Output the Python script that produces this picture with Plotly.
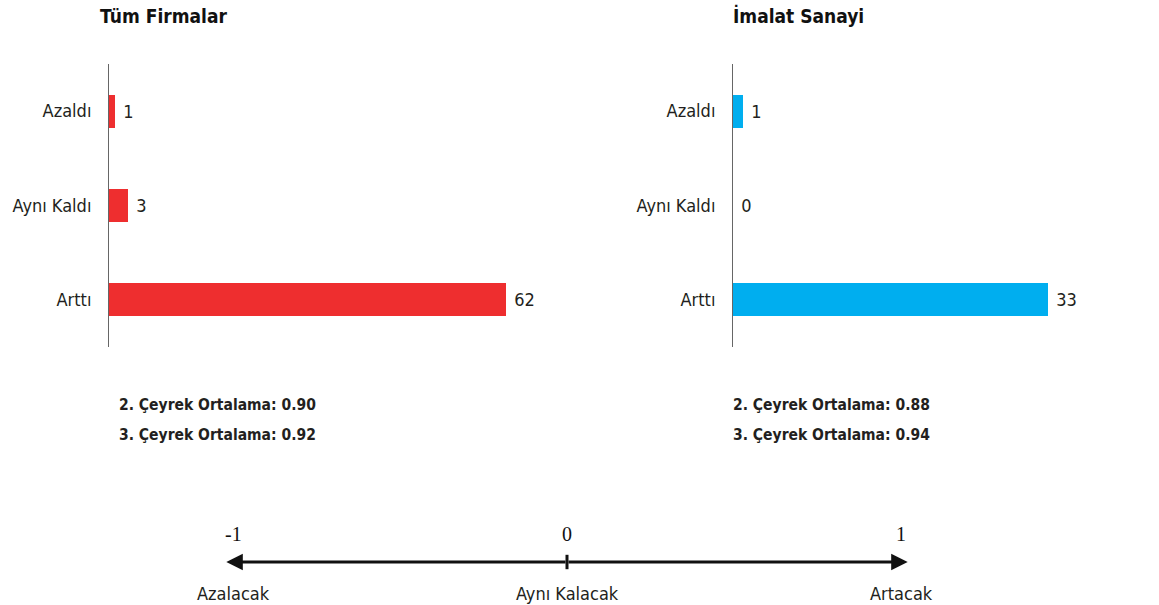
import plotly.graph_objects as go

W, H = 1159, 605

# veriler
categories = ['Azaldı', 'Aynı Kaldı', 'Arttı']
tum_firmalar = [1, 3, 62]
imalat_sanayi = [1, 0, 33]

panel_titles = ['Tüm Firmalar', 'İmalat Sanayi']
ortalama_tum = ['2. Çeyrek Ortalama: 0.90', '3. Çeyrek Ortalama: 0.92']
ortalama_imalat = ['2. Çeyrek Ortalama: 0.88', '3. Çeyrek Ortalama: 0.94']

scale_values = [-1, 0, 1]
scale_labels = ['Azalacak', 'Aynı Kalacak', 'Artacak']

RED = '#EE2E2F'
BLUE = '#00AEEF'
TXT = '#231F20'
FONT = 'DejaVu Sans Condensed, Roboto, sans-serif'


def px_x(p):
    return p / W


def px_y(p):
    return 1 - p / H


fig = go.Figure()

fig.add_trace(go.Bar(
    y=categories, x=tum_firmalar, orientation='h',
    marker=dict(color=RED, line=dict(width=0)), width=0.35,
    texttemplate='\u00a0%{x}', textposition='outside', cliponaxis=False,
    textfont=dict(family=FONT, size=18, color=TXT),
    xaxis='x', yaxis='y', hoverinfo='skip'))

fig.add_trace(go.Bar(
    y=categories, x=imalat_sanayi, orientation='h',
    marker=dict(color=BLUE, line=dict(width=0)), width=0.35,
    texttemplate='\u00a0%{x}', textposition='outside', cliponaxis=False,
    textfont=dict(family=FONT, size=18, color=TXT),
    xaxis='x2', yaxis='y2', hoverinfo='skip'))

y_dom = [px_y(347), px_y(64)]
common_y = dict(type='category', categoryorder='array', categoryarray=categories[::-1],
                range=[-0.5, 2.5], showline=True, linecolor='#666', linewidth=1,
                ticks='', ticklabelstandoff=13, showgrid=False, zeroline=False,
                tickfont=dict(family=FONT, size=18, color=TXT))
common_x = dict(showline=False, showgrid=False, zeroline=False, showticklabels=False, ticks='')

fig.update_layout(
    width=W, height=H,
    margin=dict(l=0, r=0, t=0, b=0),
    paper_bgcolor='white', plot_bgcolor='rgba(0,0,0,0)',
    showlegend=False, bargap=0,
    xaxis=dict(common_x, domain=[px_x(109), px_x(506)], range=[0, 62], anchor='y'),
    yaxis=dict(common_y, domain=y_dom, anchor='x'),
    xaxis2=dict(common_x, domain=[px_x(733), px_x(1048)], range=[0, 33], anchor='y2'),
    yaxis2=dict(common_y, domain=y_dom, anchor='x2'),
    xaxis3=dict(common_x, domain=[px_x(233), px_x(901)], range=[-1, 1], anchor='y3'),
    yaxis3=dict(common_x, domain=[px_y(602), px_y(522)], range=[-1, 1], anchor='x3'),
)

annotations = []
# panel basliklari
for x0, t in zip([98, 731], panel_titles):
    annotations.append(dict(x=px_x(x0), y=px_y(16), xref='paper', yref='paper',
                            text=f'<b>{t}</b>', showarrow=False, xanchor='left', yanchor='middle',
                            font=dict(family=FONT, size=19, color='#111')))

# ortalamalar
for x0, lines in zip([117, 731], [ortalama_tum, ortalama_imalat]):
    for yy, t in zip([405, 435], lines):
        annotations.append(dict(x=px_x(x0), y=px_y(yy), xref='paper', yref='paper',
                                text=f'<b>{t}</b>', showarrow=False, xanchor='left', yanchor='middle',
                                font=dict(family=FONT, size=15.5, color=TXT)))

# sayi dogrusu
for sign in [-1, 1]:
    annotations.append(dict(x=sign * 1.02, y=0, xref='x3', yref='y3',
                            ax=0, ay=0, axref='x3', ayref='y3', text='',
                            showarrow=True, arrowhead=2, arrowsize=1.1, arrowwidth=3,
                            arrowcolor='#111'))
for v, lab in zip(scale_values, scale_labels):
    annotations.append(dict(x=v, y=0.7, xref='x3', yref='y3', text=str(v),
                            showarrow=False, font=dict(family='Liberation Serif', size=20, color='#111')))
    annotations.append(dict(x=v, y=-0.78, xref='x3', yref='y3', text=lab,
                            showarrow=False, font=dict(family=FONT, size=18, color=TXT)))

fig.update_layout(annotations=annotations)
fig.add_shape(type='line', xref='x3', yref='y3', x0=0, x1=0, y0=-0.18, y1=0.18,
              line=dict(color='#111', width=3))

fig.write_html('out.html', config={'displayModeBar': False},
               post_script="document.body.style.margin='0';")
